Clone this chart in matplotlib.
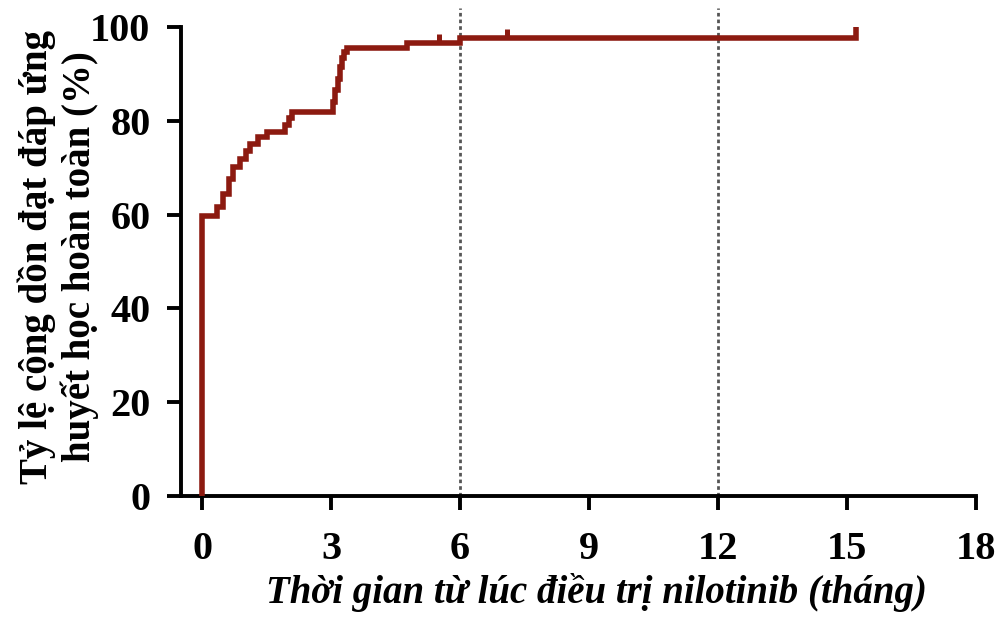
import numpy as np
import matplotlib.pyplot as plt

# Cumulative complete hematologic response (step curve)
event_t = [0, 0, 0.35, 0.49, 0.62, 0.72, 0.88, 1.02, 1.12, 1.30, 1.50, 1.80, 1.92, 2.02, 2.10,
           3.05, 3.10, 3.15, 3.20, 3.25, 3.30, 3.38, 4.77, 6.0, 15.2]
event_y = [0, 59.6, 61.7, 64.5, 67.5, 70.2, 71.8, 73.5, 75.0, 76.6, 77.6, 77.6, 79.0, 80.5, 81.8,
           84.0, 86.5, 89.0, 91.5, 93.4, 94.6, 95.5, 96.6, 97.6, 100]
censor_t = [5.5, 7.1]
censor_y = [96.6, 97.6]

x_ticks = [0, 3, 6, 9, 12, 15, 18]
y_ticks = [0, 20, 40, 60, 80, 100]
ref_lines = [6, 12]

red = '#8c1a10'

fig = plt.figure(figsize=(10, 6.21), dpi=100)
ax = fig.add_axes([0.181, 0.2013, 0.795, 0.7552])

# reference lines
for r in ref_lines:
    ax.plot([r, r], [0, 104], ls=(0, (1.3, 1.1)), color='#555555', lw=2.0, clip_on=False, zorder=1)

# step curve
ax.step(event_t, event_y, where='post', color=red, lw=4.0, clip_on=False, zorder=3,
        solid_capstyle='butt', solid_joinstyle='miter')
# censor marks
for t, y in zip(censor_t, censor_y):
    ax.plot([t, t], [y, y + 2.0], color=red, lw=3.6, solid_capstyle='butt', zorder=3)

ax.set_xlim(-0.49, 18)
ax.set_ylim(0, 100)
ax.set_xticks(x_ticks)
ax.set_yticks(y_ticks)

for s in ['top', 'right']:
    ax.spines[s].set_visible(False)
for s in ['left', 'bottom']:
    ax.spines[s].set_linewidth(2.8)

ax.tick_params(axis='both', direction='out', length=10, width=2.8, pad=12)
ax.tick_params(axis='x', pad=15)

for lab in ax.get_xticklabels() + ax.get_yticklabels():
    lab.set_fontfamily('Liberation Serif')
    lab.set_fontweight('bold')
    lab.set_fontsize(29)

ax.set_xlabel('Thời gian từ lúc điều trị nilotinib (tháng)', fontfamily='Liberation Serif',
              fontweight='bold', fontstyle='italic', fontsize=28)
ax.xaxis.set_label_coords(0.523, -0.165)
ax.set_ylabel('Tỷ lệ cộng dồn đạt đáp ứng\nhuyết học hoàn toàn (%)', fontfamily='Liberation Serif',
              fontweight='bold', fontsize=28, linespacing=1.15)
ax.yaxis.set_label_coords(-0.103, 0.51)

fig.savefig('out.png', dpi=100)
